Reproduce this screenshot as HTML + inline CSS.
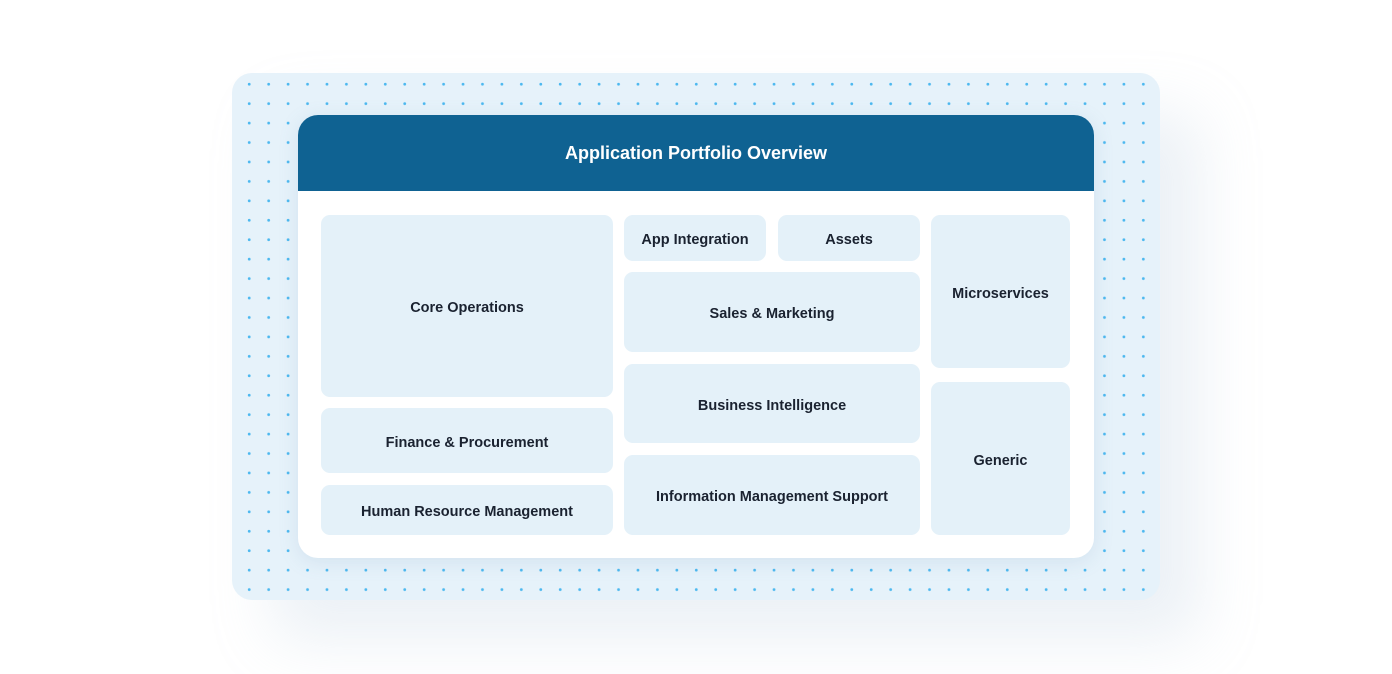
<!DOCTYPE html>
<html><head><style>
html,body{margin:0;padding:0;background:#fff;width:1392px;height:674px;overflow:hidden;font-family:"Liberation Sans",sans-serif}
.outer{position:absolute;left:232px;top:73px;width:928px;height:527px;border-radius:20px;background-color:#e6f2fa;
background-image:radial-gradient(circle,#4cb8ef 1.3px,transparent 1.6px);background-size:19.45px 19.45px;background-position:7.5px 1.5px;box-shadow:40px 40px 60px rgba(180,200,220,0.25)}
.card{position:absolute;left:298px;top:115px;width:796px;height:443px;border-radius:20px;background:#fff;overflow:hidden;box-shadow:0 4px 20px rgba(100,140,180,0.15)}
.hdr{position:absolute;left:0;top:0;width:796px;height:76px;background:#0f6292;color:#fff;font-weight:bold;font-size:18px;display:flex;align-items:center;justify-content:center}
.b{position:absolute;background:#e4f1f9;border-radius:9px;display:flex;align-items:center;justify-content:center;font-weight:bold;font-size:14.5px;color:#1a2230;box-sizing:border-box;padding-top:4px}
</style></head><body>
<div class="outer"></div>
<div class="card"><div class="hdr">Application Portfolio Overview</div></div>
<div class="b" style="left:321px;top:215px;width:292px;height:182px">Core Operations</div>
<div class="b" style="left:321px;top:408px;width:292px;height:65px">Finance &amp; Procurement</div>
<div class="b" style="left:321px;top:485px;width:292px;height:50px">Human Resource Management</div>
<div class="b" style="left:624px;top:215px;width:142px;height:46px">App Integration</div>
<div class="b" style="left:778px;top:215px;width:142px;height:46px">Assets</div>
<div class="b" style="left:624px;top:272px;width:296px;height:80px">Sales &amp; Marketing</div>
<div class="b" style="left:624px;top:364px;width:296px;height:79px">Business Intelligence</div>
<div class="b" style="left:624px;top:455px;width:296px;height:80px">Information Management Support</div>
<div class="b" style="left:931px;top:215px;width:139px;height:153px">Microservices</div>
<div class="b" style="left:931px;top:382px;width:139px;height:153px">Generic</div>
</body></html>
